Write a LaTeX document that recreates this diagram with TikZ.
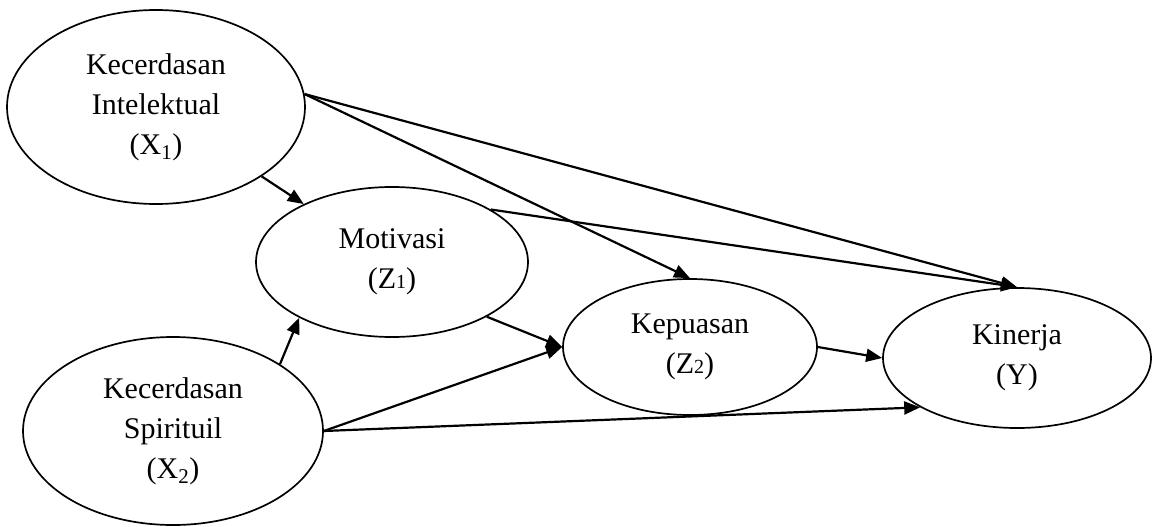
\documentclass[tikz,border=0pt]{standalone}
\usepackage{fontspec}
\setmainfont{Liberation Serif}
\usetikzlibrary{shapes.geometric, arrows.meta}

\newcommand{\smallsub}[1]{{\fontsize{20}{20}\selectfont #1}}

\begin{document}
\begin{tikzpicture}[x=1pt, y=-1pt, >={Triangle[length=16pt,width=13pt]}]
  \tikzstyle{var} = [draw, ellipse, line width=1.7pt, inner sep=0pt, align=center, font=\fontsize{30}{40}\selectfont]
  \tikzstyle{link} = [->, line width=2.2pt]
  \useasboundingbox (0,0) rectangle (1156,527);
  \node [var, minimum width=298pt, minimum height=194pt] (x1) at (156,107) {Kecerdasan\\Intelektual\\(X\textsubscript{1})};
  \node [var, minimum width=272pt, minimum height=150pt] (z1) at (392,262) {Motivasi\\(Z\smallsub{1})};
  \node [var, minimum width=254pt, minimum height=136pt] (z2) at (690,347) {Kepuasan\\(Z\smallsub{2})};
  \node [var, minimum width=268pt, minimum height=140pt] (y) at (1017,358) {Kinerja\\(Y)};
  \node [var, minimum width=300pt, minimum height=188pt] (x2) at (173,431) {Kecerdasan\\Spirituil\\(X\textsubscript{2})};

  \draw [link] (x1) -- (z1);
  \draw [link] (x1.5) -- (z2.north);
  \draw [link] (x1.5) -- (y.north);
  \draw [link] (z1.28) -- (y.north);
  \draw [link] (z1.-30) -- (z2.west);
  \draw [link] (x2.32) -- (z1.211);
  \draw [link] (x2.east) -- (z2.west);
  \draw [link] (x2.east) -- (y.207);
  \draw [link] (z2.east) -- (y.west);
\end{tikzpicture}
\end{document}
